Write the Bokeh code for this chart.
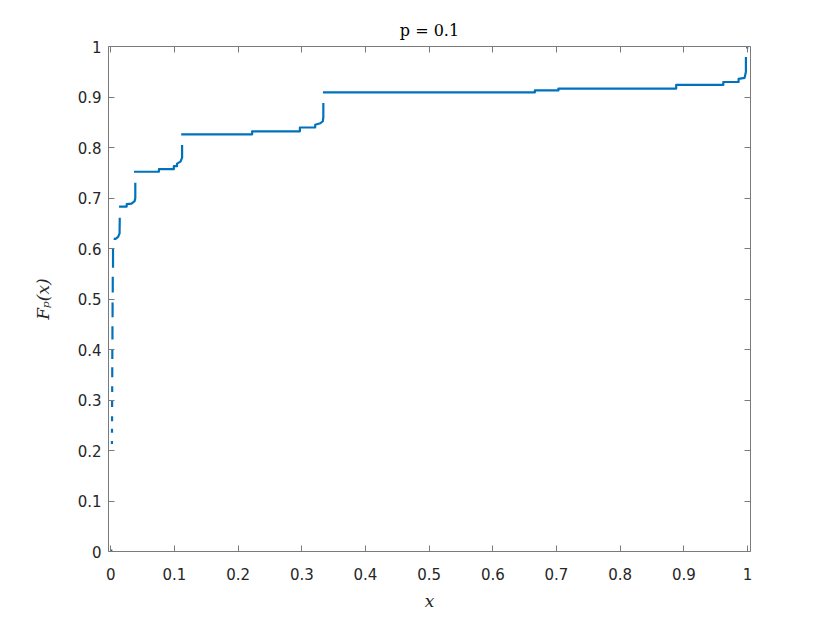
import math
from bokeh.plotting import figure
from bokeh.models import LinearAxis, FixedTicker, Range1d
from bokeh.embed import file_html
from bokeh.resources import INLINE

# ---- data ----
tick_vals = [0.0, 0.1, 0.2, 0.3, 0.4, 0.5, 0.6, 0.7, 0.8, 0.9, 1.0]
tick_labels = ["0", "0.1", "0.2", "0.3", "0.4", "0.5", "0.6", "0.7", "0.8", "0.9", "1"]

origin_x = [0.0008, 0.0008]
origin_y = [0.0, 0.004]

dash_x = [0.0018, 0.0019, 0.0020, 0.0021, 0.0022, 0.0023, 0.0024, 0.0026, 0.0028, 0.0031, 0.0035]
dash_lo = [0.213, 0.235, 0.258, 0.286, 0.316, 0.345, 0.381, 0.420, 0.464, 0.513, 0.562]
dash_hi = [0.219, 0.243, 0.268, 0.298, 0.327, 0.365, 0.400, 0.446, 0.493, 0.544, 0.600]

step1_x = [0.0045, 0.0075, 0.0115, 0.0138, 0.0141]
step1_y = [0.619, 0.619, 0.623, 0.630, 0.661]

step2_x = [0.0130, 0.0250, 0.0250, 0.0325, 0.0345, 0.0375, 0.0385, 0.0385]
step2_y = [0.683, 0.683, 0.688, 0.689, 0.691, 0.694, 0.700, 0.730]

step3_x = [0.0365, 0.0756, 0.0756, 0.0990, 0.0990, 0.1040, 0.1040, 0.1095, 0.1120, 0.1120]
step3_y = [0.752, 0.752, 0.757, 0.757, 0.763, 0.763, 0.768, 0.772, 0.780, 0.805]

step4_x = [0.1106, 0.2220, 0.2220, 0.2970, 0.2970, 0.3210, 0.3210, 0.3290, 0.3330, 0.3338, 0.3338]
step4_y = [0.826, 0.826, 0.832, 0.832, 0.8396, 0.8396, 0.845, 0.848, 0.852, 0.860, 0.888]

step5_x = [0.3332, 0.666, 0.666, 0.703, 0.703, 0.888, 0.888, 0.962, 0.962, 0.986, 0.986, 0.9955, 0.9975, 0.9975]
step5_y = [0.909, 0.909, 0.913, 0.913, 0.9166, 0.9166, 0.924, 0.924, 0.9297, 0.9297, 0.936, 0.938, 0.950, 0.979]

end_x = [0.9995, 0.9995]
end_y = [0.996, 1.0]

# ---- build one NaN-separated polyline ----
pieces = [(origin_x, origin_y)]
for dx, lo, hi in zip(dash_x, dash_lo, dash_hi):
    pieces.append(([dx, dx], [lo, hi]))
pieces += [(step1_x, step1_y), (step2_x, step2_y), (step3_x, step3_y),
           (step4_x, step4_y), (step5_x, step5_y), (end_x, end_y)]

xs, ys = [], []
for px, py in pieces:
    if xs:
        xs.append(math.nan)
        ys.append(math.nan)
    xs += list(px)
    ys += list(py)

AX = "#7a7a7a"
TXT = "#262626"

p = figure(width=820, height=613, output_backend="svg", toolbar_location=None,
           x_range=Range1d(-0.0036, 1.0047), y_range=Range1d(0, 1),
           min_border_left=108, min_border_right=70, min_border_top=46, min_border_bottom=60,
           background_fill_color="white", border_fill_color="white")
p.outline_line_color = None
p.xgrid.visible = False
p.ygrid.visible = False

p.line(xs, ys, line_color="#0072BD", line_width=2.2, line_join="round")

ticker = FixedTicker(ticks=tick_vals)
overrides = {v: s for v, s in zip(tick_vals, tick_labels)}

def style(ax, labels=True):
    ax.ticker = ticker
    ax.axis_line_color = AX
    ax.axis_line_width = 1
    ax.major_tick_line_color = AX
    ax.major_tick_in = 6
    ax.major_tick_out = 0
    ax.minor_tick_line_color = None
    if labels:
        ax.major_label_overrides = overrides
        ax.major_label_text_font = "DejaVu Sans"
        ax.major_label_text_font_size = "15px"
        ax.major_label_text_color = TXT
    else:
        ax.major_label_text_font_size = "0px"
        ax.major_label_text_color = None
        ax.major_label_standoff = 0

xa = p.xaxis[0]
ya = p.yaxis[0]
style(xa)
style(ya)
xa.major_label_standoff = 16
ya.major_label_standoff = 7

xa.axis_label = "x"
ya.axis_label = "F\u209a(x)"
for ax in (xa, ya):
    ax.axis_label_text_font = "DejaVu Serif"
    ax.axis_label_text_font_style = "italic"
    ax.axis_label_text_font_size = "17px"
    ax.axis_label_text_color = TXT
xa.axis_label_standoff = 8
ya.axis_label_standoff = 22

top = LinearAxis()
right = LinearAxis()
style(top, labels=False)
style(right, labels=False)
p.add_layout(top, "above")
p.add_layout(right, "right")

p.title.text = "p = 0.1"
p.title.align = "center"
p.title.text_font = "DejaVu Serif"
p.title.text_font_style = "normal"
p.title.text_font_size = "16px"
p.title.text_color = "#000000"
p.title.standoff = 13

open("out.html", "w").write(file_html(p, INLINE))
